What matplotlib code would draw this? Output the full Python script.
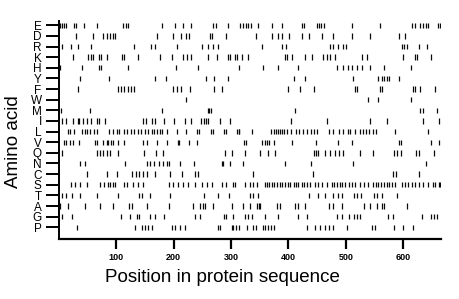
import matplotlib
matplotlib.use("Agg")
import matplotlib.pyplot as plt

seq_length = 666
amino_acids = ["E", "D", "R", "K", "H", "Y", "F", "W", "M", "I",
               "L", "V", "Q", "N", "C", "S", "T", "A", "G", "P"]

pos_E = [2, 6, 9, 13, 26, 30, 43, 66, 111, 116, 121, 179, 202, 217, 230, 269, 274, 295,
         316, 321, 326, 330, 335, 347, 371, 388, 423, 427, 449, 453, 457, 462, 510, 560,
         615, 620, 630, 635, 639, 644, 660, 664]
pos_D = [30, 60, 76, 84, 89, 94, 98, 171, 198, 212, 221, 227, 263, 267, 292, 344, 372,
         382, 389, 401, 423, 435, 458, 477, 510, 543, 592, 603]
pos_R = [5, 21, 33, 55, 130, 160, 167, 206, 249, 260, 269, 278, 354, 389, 395, 473, 477,
         487, 495, 501, 598, 602, 606, 627, 642]
pos_K = [24, 51, 55, 60, 69, 74, 83, 110, 113, 138, 176, 197, 217, 223, 231, 260, 275,
         295, 298, 307, 310, 319, 330, 394, 397, 406, 429, 441, 461, 467, 473, 481, 528,
         537, 600, 621, 624, 648]
pos_H = [2, 40, 70, 73, 120, 204, 243, 313, 355, 382, 417, 484, 496, 503, 510, 519, 528,
         543, 567, 613]
pos_Y = [37, 88, 167, 187, 256, 270, 294, 409, 429, 512, 556, 563, 567, 572, 576, 593]
pos_F = [33, 102, 108, 113, 121, 125, 130, 199, 205, 213, 228, 270, 285, 399, 420, 444,
         516, 519, 559, 563, 617, 621, 630, 656]
pos_W = [221, 538, 557, 613]
pos_M = [3, 54, 179, 259, 262, 265, 412, 630, 634, 659]
pos_I = [6, 13, 24, 33, 35, 41, 49, 55, 66, 69, 80, 146, 152, 162, 167, 183, 201, 220,
         230, 247, 252, 256, 259, 281, 298, 404, 467, 542, 572, 634, 662]
pos_L = [15, 20, 26, 40, 45, 49, 54, 61, 66, 88, 95, 101, 105, 113, 119, 125, 130, 137,
         143, 150, 156, 162, 166, 171, 176, 179, 188, 206, 221, 240, 244, 265, 268, 288,
         291, 311, 313, 314, 337, 370, 374, 378, 381, 385, 389, 393, 397, 404, 413, 419,
         426, 432, 439, 444, 449, 470, 477, 488, 496, 503, 507, 516, 524, 530, 535, 541,
         547, 553, 586, 644]
pos_V = [9, 13, 19, 24, 35, 62, 67, 77, 84, 86, 90, 95, 103, 113, 147, 153, 170, 188,
         208, 210, 227, 240, 323, 326, 354, 360, 363, 366, 375, 406, 448, 486, 510, 593,
         596, 648, 663]
pos_Q = [6, 66, 72, 77, 84, 89, 103, 149, 169, 181, 290, 301, 324, 351, 365, 377, 444,
         448, 452, 464, 473, 481, 488, 496, 525, 547, 584, 590, 596, 623, 628, 653]
pos_N = [37, 45, 115, 153, 159, 165, 174, 182, 189, 192, 211, 235, 284, 286, 298, 320,
         394, 439, 512, 640]
pos_C = [49, 83, 101, 127, 134, 140, 146, 153, 168, 194, 215, 237, 243, 339, 442, 583,
         588, 628]
pos_S = [21, 28, 37, 49, 72, 78, 85, 89, 94, 98, 113, 118, 129, 137, 147, 191, 199, 208,
         217, 225, 237, 249, 258, 266, 284, 291, 304, 307, 325, 333, 339, 345, 359, 362,
         366, 371, 375, 380, 385, 389, 394, 399, 403, 409, 413, 417, 423, 428, 432, 438,
         446, 451, 459, 467, 476, 480, 484, 490, 494, 499, 505, 510, 516, 525, 531, 539,
         548, 553, 557, 561, 566, 572, 576, 580, 586, 598, 603, 609, 615, 621, 628, 635,
         644, 652, 656, 662, 665]
pos_T = [6, 12, 22, 37, 66, 103, 140, 144, 159, 194, 253, 278, 297, 333, 339, 347, 435,
         451, 464, 477, 487, 493, 514, 520, 526, 549, 555, 563, 589]
pos_A = [1, 16, 45, 72, 95, 122, 127, 154, 191, 233, 245, 251, 255, 269, 301, 320, 333,
         345, 348, 351, 380, 385, 412, 416, 429, 470, 477, 493, 532, 542, 555, 563, 567,
         606]
pos_G = [6, 22, 108, 123, 136, 140, 159, 167, 183, 237, 246, 287, 291, 304, 324, 330,
         337, 359, 381, 417, 433, 484, 493, 505, 514, 520, 524, 574, 583, 633, 648, 654,
         659]
pos_P = [32, 133, 144, 150, 156, 162, 197, 202, 211, 220, 278, 281, 301, 304, 309, 314,
         327, 339, 343, 356, 360, 365, 370, 374, 432, 446, 455, 464, 470, 477, 502, 545,
         551, 584, 599, 617]

positions = [pos_E, pos_D, pos_R, pos_K, pos_H, pos_Y, pos_F, pos_W, pos_M, pos_I,
             pos_L, pos_V, pos_Q, pos_N, pos_C, pos_S, pos_T, pos_A, pos_G, pos_P]

x_ticks = [100, 200, 300, 400, 500, 600]

fig = plt.figure(figsize=(4.6, 2.99), dpi=100)
ax = fig.add_axes([59 / 460, 1 - 239 / 299, 382 / 460, 218 / 299])

n = len(amino_acids)
for i, (aa, pos) in enumerate(zip(amino_acids, positions)):
    y = n - 1 - i
    ax.vlines(pos, y - 0.25, y + 0.25, colors="#0a0a0a", linewidth=0.9)

ax.set_xlim(0, seq_length)
ax.set_ylim(-1.1, n - 1 + 0.4)
ax.set_yticks(range(n))
ax.set_yticklabels(amino_acids[::-1], fontfamily="Liberation Sans", fontsize=8.5)
ax.set_xticks(x_ticks)
ax.set_xticklabels([str(t) for t in x_ticks], fontfamily="Liberation Sans",
                   fontsize=6.5, fontweight="bold")
ax.tick_params(axis="y", length=9.5, width=1.4, pad=3, direction="out")
ax.tick_params(axis="x", length=7, width=1.6, pad=3, direction="out")
for s in ["top", "right"]:
    ax.spines[s].set_visible(False)
ax.spines["left"].set_linewidth(1.4)
ax.spines["bottom"].set_linewidth(1.6)

fig.text(222 / 460, 1 - 277 / 299, "Position in protein sequence", ha="center",
         va="center", fontfamily="Liberation Sans", fontsize=13.5)
fig.text(14 / 460, 1 - 142 / 299, "Amino acid", ha="center", va="center",
         rotation=90, fontfamily="Liberation Sans", fontsize=13.5)

fig.savefig("out.png", dpi=100)
